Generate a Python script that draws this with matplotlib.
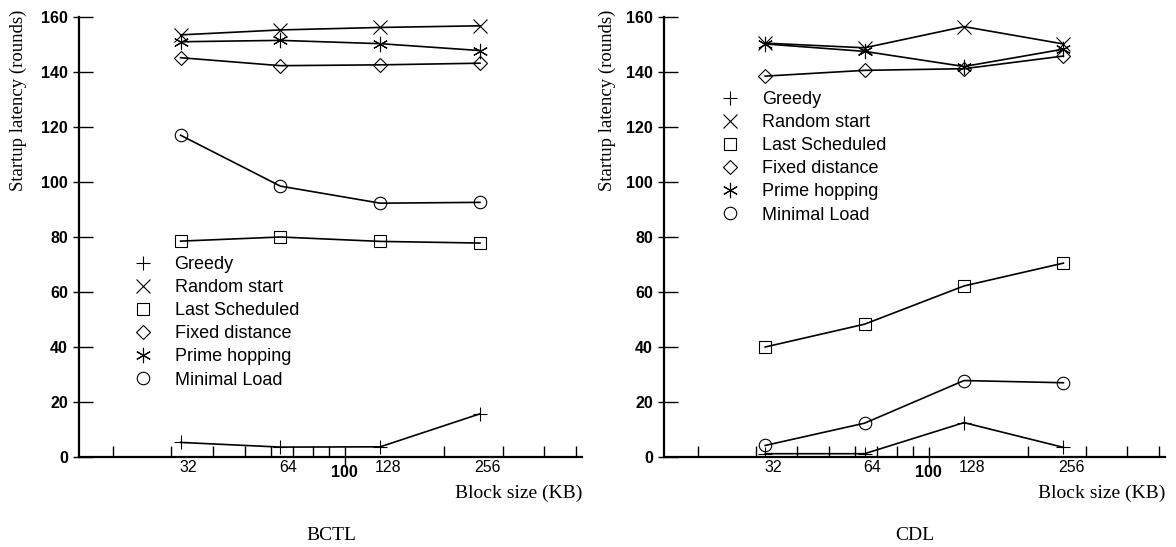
import matplotlib.pyplot as plt
from matplotlib.lines import Line2D
from matplotlib.ticker import FixedLocator, NullFormatter
import matplotlib.transforms as mtransforms

# adatok
block_sizes = [32, 64, 128, 256]
series_names = ["Greedy", "Random start", "Last Scheduled",
                "Fixed distance", "Prime hopping", "Minimal Load"]

bctl_greedy = [5.3, 3.6, 3.7, 15.7]
bctl_random = [153.5, 155.3, 156.2, 156.8]
bctl_last = [78.5, 80.0, 78.4, 77.8]
bctl_fixed = [145.2, 142.3, 142.6, 143.2]
bctl_prime = [151.0, 151.5, 150.3, 147.8]
bctl_minimal = [117.0, 98.5, 92.3, 92.6]

cdl_greedy = [1.2, 1.2, 12.5, 3.5]
cdl_random = [150.5, 148.8, 156.5, 150.2]
cdl_last = [40.0, 48.3, 62.2, 70.5]
cdl_fixed = [138.5, 140.6, 141.2, 145.8]
cdl_prime = [150.2, 147.5, 142.0, 148.3]
cdl_minimal = [4.2, 12.3, 27.8, 27.0]

x_labels = ["32", "64", "128", "256"]
y_ticks = [0, 20, 40, 60, 80, 100, 120, 140, 160]
minor_x = [20, 30, 40, 50, 60, 70, 80, 90, 200, 300, 400, 500]

markers = ["+", "x", "s", "D", (6, 2, 0), "o"]
marker_sizes = [10, 10, 9, 7, 11, 9]

SANS = "Liberation Sans"
SERIF = "Liberation Serif"
LEG_FS = 13


def panel(ax, adatok, title, legend_pos, ylabel_x) -> None:  # egy panel rajzolása
    for vals, m, ms in zip(adatok, markers, marker_sizes):
        ax.plot(block_sizes, vals, color="black", linewidth=1.2,
                marker=m, markersize=ms, markerfacecolor="none",
                markeredgecolor="black", markeredgewidth=0.8)

    ax.set_xscale("log")
    ax.set_xlim(15.8, 520)
    ax.set_ylim(0, 160)
    ax.spines["top"].set_visible(False)
    ax.spines["right"].set_visible(False)
    ax.spines["left"].set_linewidth(1.6)
    ax.spines["bottom"].set_linewidth(1.6)

    # x tengely: osztásjelek
    ax.xaxis.set_major_locator(FixedLocator([100]))
    ax.xaxis.set_minor_locator(FixedLocator(minor_x))
    ax.xaxis.set_major_formatter(NullFormatter())
    ax.xaxis.set_minor_formatter(NullFormatter())
    ax.tick_params(axis="x", which="major", direction="inout", length=14, width=1.0)
    ax.tick_params(axis="x", which="minor", direction="in", length=8, width=1.0)

    # y tengely
    ax.set_yticks(y_ticks)
    ax.yaxis.set_minor_locator(FixedLocator(y_ticks))
    ax.yaxis.remove_overlapping_locs = False
    ax.tick_params(axis="y", which="major", direction="in", length=10, width=1.0, pad=8)
    ax.tick_params(axis="y", which="minor", direction="out", length=4, width=1.0)
    for lab in ax.get_yticklabels():
        lab.set_fontfamily(SANS)
        lab.set_fontweight("bold")
        lab.set_fontsize(11.5)

    # x feliratok (eltolva)
    trans = mtransforms.blended_transform_factory(ax.transData, ax.transAxes)
    off = mtransforms.ScaledTranslation(8 / 100, 0, ax.figure.dpi_scale_trans)
    for xv, lab in zip(block_sizes, x_labels):
        ax.text(xv, -0.025, lab, transform=trans + off, ha="center", va="center",
                fontfamily=SANS, fontsize=11.5)
    ax.text(100, -0.036, "100", transform=trans, ha="center", va="center",
            fontfamily=SANS, fontsize=11.5, fontweight="bold")

    ax.text(1.0, -0.082, "Block size (KB)", transform=ax.transAxes, ha="right",
            va="center", fontfamily=SERIF, fontsize=14)
    ax.set_ylabel("Startup latency (rounds)", fontfamily=SERIF, fontsize=13.5)
    ax.yaxis.set_label_coords(ylabel_x, 0.81)

    kezelok = [Line2D([], [], linestyle="none", marker=m, markersize=ms,
                      markerfacecolor="none", markeredgecolor="black",
                      markeredgewidth=0.8)
               for m, ms in zip(markers, marker_sizes)]
    ax.legend(kezelok, series_names, loc="upper left", bbox_to_anchor=legend_pos,
              frameon=False, borderpad=0, borderaxespad=0, handlelength=0.85,
              handletextpad=1.35, labelspacing=0.34,
              prop={"family": SANS, "size": LEG_FS})

    ax.figure.text(*title[1:], title[0], ha="center", va="center",
                   fontfamily=SERIF, fontsize=14)


fig = plt.figure(figsize=(11.76, 5.47), dpi=100)
ax1 = fig.add_axes([79 / 1176, 90 / 547, 503 / 1176, 440 / 547])
ax2 = fig.add_axes([664 / 1176, 90 / 547, 501 / 1176, 440 / 547])

panel(ax1, [bctl_greedy, bctl_random, bctl_last, bctl_fixed, bctl_prime, bctl_minimal],
      ("BCTL", 331 / 1176, 1 - 536 / 547), (0.111, 0.457), -0.103)
panel(ax2, [cdl_greedy, cdl_random, cdl_last, cdl_fixed, cdl_prime, cdl_minimal],
      ("CDL", 915 / 1176, 1 - 536 / 547), (0.116, 0.832), -0.096)

fig.savefig("out.png", dpi=100)
